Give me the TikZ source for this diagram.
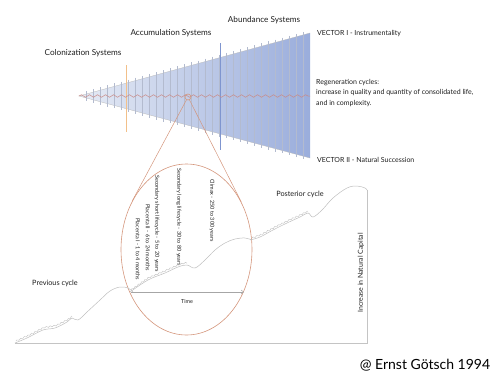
\documentclass[tikz,border=0pt]{standalone}
\usepackage{fontspec}
\setmainfont{Lato}
\usetikzlibrary{arrows.meta,positioning,shapes.geometric,decorations.pathmorphing}
\definecolor{conenear}{HTML}{E6EBF5}
\definecolor{conefar}{HTML}{9AADDC}
\definecolor{stripegray}{HTML}{B3BBCF}
\definecolor{wavered}{HTML}{C98A86}
\definecolor{lensred}{HTML}{D4967C}
\definecolor{colorange}{HTML}{F2C08A}
\definecolor{abublue}{HTML}{7F95CF}
\definecolor{curvegray}{HTML}{BEBEBE}
\definecolor{axisgray}{HTML}{C4C4C4}
\definecolor{inkgray}{HTML}{1E1E1E}

\begin{document}
\begin{tikzpicture}[
  x=1pt, y=-1pt,
  every node/.style={inner sep=1pt, text=inkgray, font=\fontsize{7.3}{8}\selectfont},
  phase/.style={font=\fontsize{8.2}{9}\selectfont},
  note/.style={anchor=west, align=left, font=\fontsize{7}{10.5}\selectfont},
  lifespan/.style={rotate=-90, anchor=west, font=\fontsize{5.5}{6}\selectfont},
  stripe/.style={stripegray, line width=.4pt},
  cycleline/.style={curvegray, line width=.5pt},
  strand/.style={cycleline, line width=.4pt, decorate,
    decoration={snake, amplitude=.6pt, segment length=4pt}},
  lensline/.style={lensred, line width=.5pt}
]
\useasboundingbox (0,0) rectangle (501,373);

% cone of succession
\coordinate (conetip) at (79,96);
\coordinate (coneup) at (310,33);
\coordinate (conelow) at (310,158);
\coordinate (coneend) at (310,96);
\shade[left color=conenear, right color=conefar] (conetip) -- (coneup) -- (conelow) -- cycle;
\draw[gray!55, line width=.3pt] (coneup) -- (conetip) -- (conelow);
\foreach \x in {86,93,...,303}
  \draw[stripe] (\x,{96-63*(\x-79)/231-3}) -- (\x,{96+62*(\x-79)/231+3});
\draw[colorange, line width=.8pt] (126,65) -- (126,132);
\draw[abublue, line width=.8pt] (220,43) -- (220,150);
\draw[wavered, line width=.5pt, decorate,
  decoration={snake, amplitude=1.3pt, segment length=8pt}] (conetip) -- (coneend);

\node[phase] (colon) at (83,53) {Colonization Systems};
\node[phase] (accum) at (171,33) {Accumulation Systems};
\node[phase] (abund) at (264,20) {Abundance Systems};
\node[note] (vec1) at (316,34) {VECTOR I - Instrumentality};
\node[note] (regen) at (315,93) {Regeneration cycles:\\
  increase in quality and quantity of consolidated life,\\and in complexity.};
\node[note] (vec2) at (316,160) {VECTOR II - Natural Succession};

% magnified cycle
\node[circle, draw=lensred, line width=.6pt, minimum size=6pt, inner sep=0] (spot) at (188,97) {};
\node[ellipse, draw=lensred, line width=.6pt, minimum width=131pt, minimum height=171pt,
  inner sep=0] (lens) at (186.5,249.5) {};
\draw[lensline] (spot) -- (lens.138);
\draw[lensline] (spot) -- (lens.41);

\node[lifespan] (climax) at (212,178) {Climax - 250 to 300 years};
\node[lifespan] (seclong) at (179,167) {Secondary long lifecycle - 30 to 80 years};
\node[lifespan] (secshort) at (157,174) {Secondary short lifecycle - 5 to 20 years};
\node[lifespan] (plac2) at (148,203) {Placenta II - 6 to 24 months};
\node[lifespan] (plac1) at (138,217) {Placenta I - 1 to 4 months};

% axes and cycles
\coordinate (origin) at (15,343);
\coordinate (xend) at (367,343);
\coordinate (yend) at (367,190);
\draw[axisgray, line width=.6pt] (origin) -- (xend) -- (yend);

\draw[cycleline] plot[smooth, tension=.6] coordinates {(15,343) (27,338) (43,330) (55,328)
  (67,322) (72,318) (78,320) (87,312) (100,300) (110,291) (120,287) (128,288) (133,292)};
\draw[cycleline] plot[smooth, tension=.6] coordinates {(130,292) (148,280) (165,273) (178,267)
  (187,265) (195,268) (205,260) (215,250) (225,243) (235,239) (245,238) (252,240)};
\draw[cycleline] plot[smooth, tension=.6] coordinates {(250,240) (260,237) (273,230) (287,223)
  (300,217) (308,213) (313,217) (322,210) (333,198) (347,188) (357,186) (365,188) (367,190)};
\draw[strand] (16,341) -- (27,336) -- (43,328) -- (55,326) -- (67,320) -- (72,316);
\draw[strand] (131,290) -- (148,278) -- (165,271) -- (178,265) -- (187,263);
\draw[strand] (252,238) -- (260,235) -- (273,228) -- (287,221) -- (300,215) -- (308,211);

\coordinate (t0) at (131,292);
\coordinate (t1) at (244,292);
\draw[gray!70, line width=.5pt, -{Straight Barb[length=2.5pt, width=4pt]}] (t0) -- (t1);
\node[font=\fontsize{5.5}{6}\selectfont] (time) at (187,302) {Time};

\node (prev) at (55,283) {Previous cycle};
\node (post) at (300,194) {Posterior cycle};
\node[rotate=90, font=\fontsize{6.9}{8}\selectfont] (capital) at (361,273) {Increase in Natural Capital};
\node[font=\fontsize{14}{16}\selectfont, text=black] (credit) at (425,365) {@ Ernst Götsch 1994};
\end{tikzpicture}
\end{document}
